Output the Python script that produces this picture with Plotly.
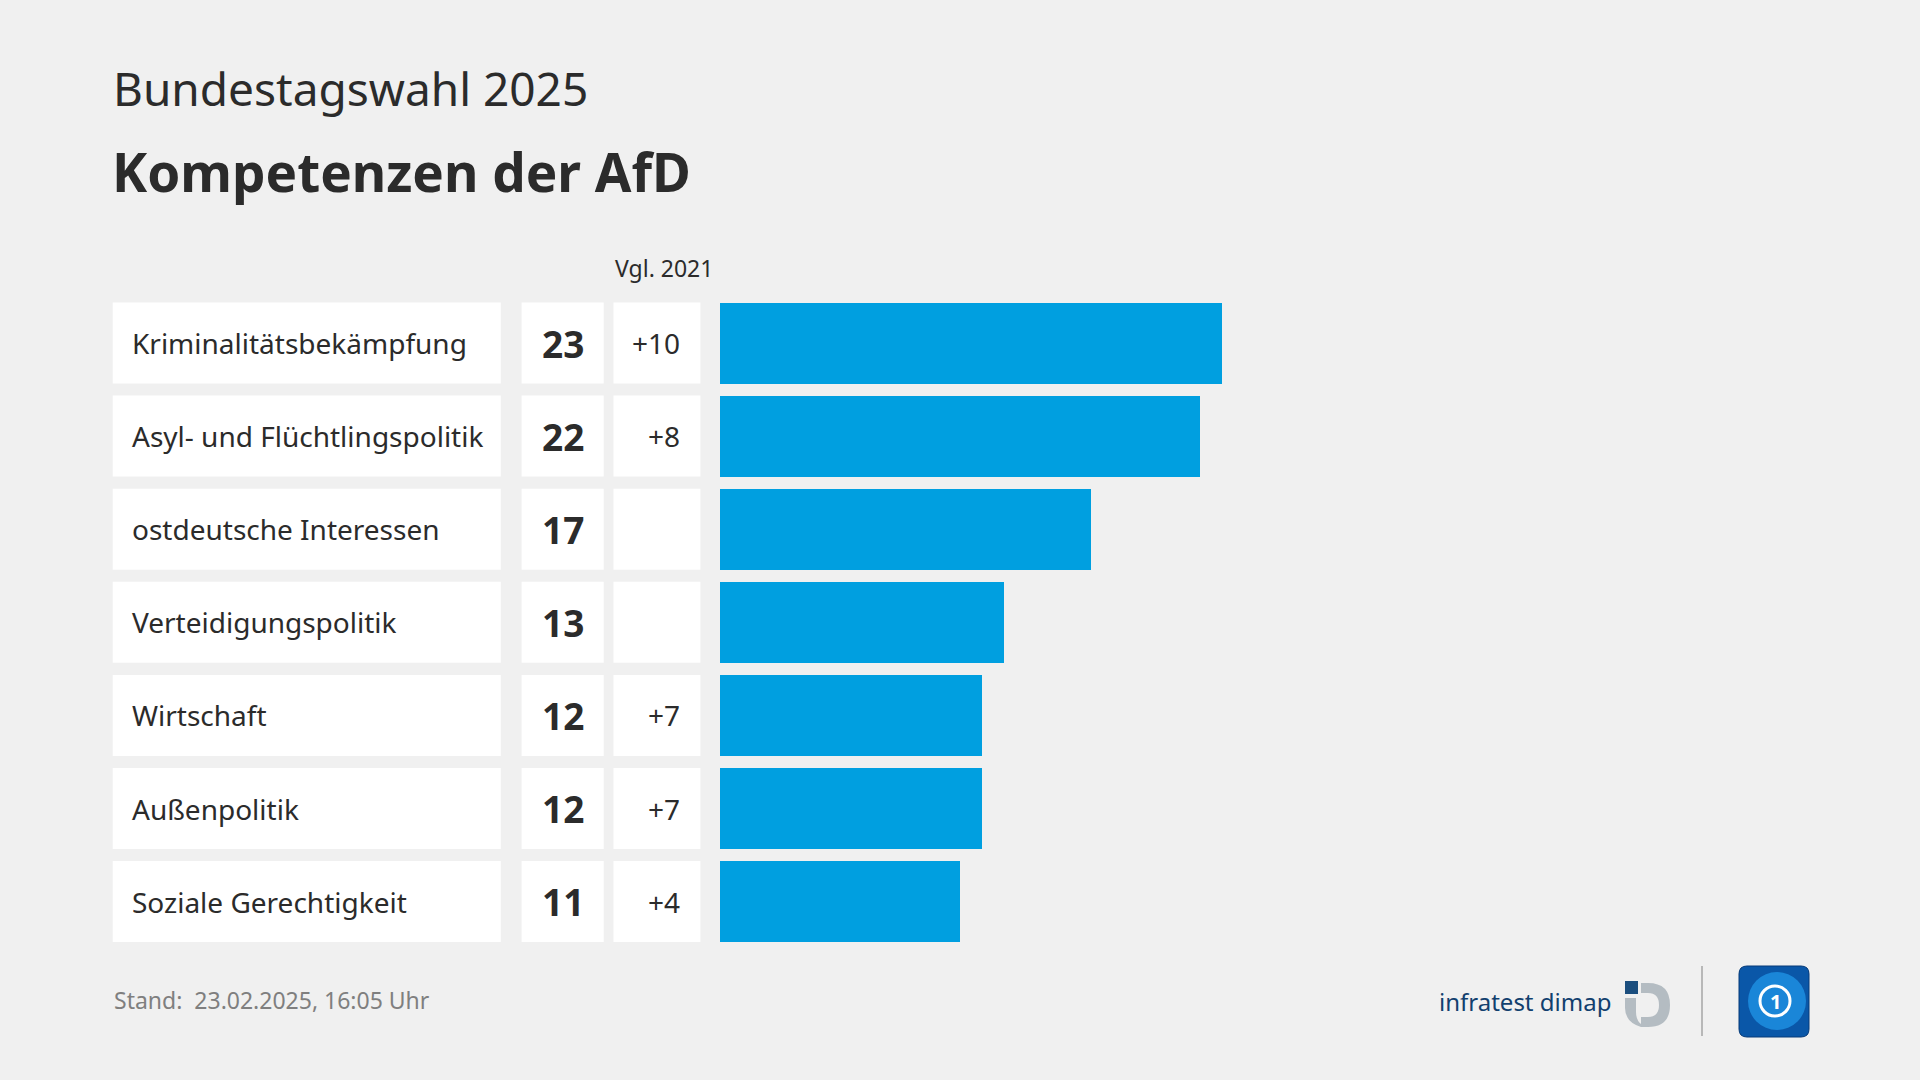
import plotly.graph_objects as go

# ---- data ----
categories = ["Kriminalitätsbekämpfung", "Asyl- und Flüchtlingspolitik", "ostdeutsche Interessen",
              "Verteidigungspolitik", "Wirtschaft", "Außenpolitik", "Soziale Gerechtigkeit"]
values = [23, 22, 17, 13, 12, 12, 11]
changes = ["+10", "+8", "", "", "+7", "+7", "+4"]
title_top = "Bundestagswahl 2025"
title_main = "Kompetenzen der AfD"
compare_label = "Vgl. 2021"
footer = "Stand:  23.02.2025, 16:05 Uhr"

W, H = 1920, 1080
BG = "#f0f0f0"
BAR = "#009fe0"
TXT = "#2b2b2b"
FONT = "Noto Sans"

def px(x):
    return x / W

def py(y):
    return 1 - y / H

rows = list(range(len(categories)))
row_c0 = 343.0
pitch = 93.1
bar_w = 81 / pitch

unit_px = 21.83
x_start = 720
x_range_max = (W - x_start) / unit_px

y_top = -row_c0 / pitch
y_bot = (H - row_c0) / pitch

fig = go.Figure()
fig.add_trace(go.Bar(
    x=values, y=rows, orientation="h", marker=dict(color=BAR, line=dict(width=0)),
    width=bar_w, hoverinfo="skip", showlegend=False,
))

shapes = []
annotations = []
half = bar_w / 2
for i, (cat, v, ch) in enumerate(zip(categories, values, changes)):
    for x0, x1 in [(112.7, 500.8), (521.6, 603.7), (613.5, 700.4)]:
        shapes.append(dict(type="rect", xref="paper", yref="y", x0=px(x0), x1=px(x1),
                           y0=i - half, y1=i + half, fillcolor="white", line=dict(width=0),
                           layer="below"))
    annotations.append(dict(x=px(130), y=i, xref="paper", yref="y", text=cat, showarrow=False,
                            xanchor="left", yanchor="middle",
                            font=dict(family=FONT, size=28, color=TXT)))
    annotations.append(dict(x=px(562.6), y=i, xref="paper", yref="y", text=f"<b>{v}</b>",
                            showarrow=False, xanchor="center", yanchor="middle",
                            font=dict(family=FONT, size=37, color=TXT)))
    if ch:
        annotations.append(dict(x=px(682), y=i, xref="paper", yref="y", text=ch, showarrow=False,
                                xanchor="right", yanchor="middle",
                                font=dict(family=FONT, size=28, color=TXT)))

annotations += [
    dict(x=px(111), y=py(88), xref="paper", yref="paper", text=title_top, showarrow=False,
         xanchor="left", yanchor="middle", font=dict(family=FONT, size=46, color=TXT)),
    dict(x=px(110), y=py(171), xref="paper", yref="paper", text=f"<b>{title_main}</b>",
         showarrow=False, xanchor="left", yanchor="middle",
         font=dict(family=FONT, size=53, color=TXT)),
    dict(x=px(664), y=py(268), xref="paper", yref="paper", text=compare_label, showarrow=False,
         xanchor="center", yanchor="middle", font=dict(family=FONT, size=23, color=TXT)),
    dict(x=px(112), y=py(1000), xref="paper", yref="paper", text=footer, showarrow=False,
         xanchor="left", yanchor="middle", font=dict(family=FONT, size=23, color="#7f7f7f")),
    dict(x=px(1613), y=py(1001), xref="paper", yref="paper", text="infratest dimap",
         showarrow=False, xanchor="right", yanchor="middle",
         font=dict(family=FONT, size=24, color="#123f6e")),
    dict(x=px(1775), y=py(1001), xref="paper", yref="paper", text="<b>1</b>",
         showarrow=False, xanchor="center", yanchor="middle",
         font=dict(family=FONT, size=20, color="white")),
]

# infratest dimap icon
shapes.append(dict(type="rect", xref="paper", yref="paper", x0=px(1625), x1=px(1638),
                   y0=py(994), y1=py(981), fillcolor="#1b4e7e", line=dict(width=0)))
shapes.append(dict(type="path", xref="paper", yref="paper",
                   path=(f"M {px(1641)} {py(983)} L {px(1648)} {py(983)} "
                         f"Q {px(1670)} {py(983)} {px(1670)} {py(1005)} "
                         f"Q {px(1670)} {py(1027)} {px(1648)} {py(1027)} "
                         f"L {px(1641)} {py(1027)} L {px(1641)} {py(1017)} "
                         f"L {px(1648)} {py(1017)} "
                         f"Q {px(1659)} {py(1017)} {px(1659)} {py(1005)} "
                         f"Q {px(1659)} {py(993)} {px(1648)} {py(993)} "
                         f"L {px(1641)} {py(993)} Z"),
                   fillcolor="#b4bcc2", line=dict(width=0)))
shapes.append(dict(type="path", xref="paper", yref="paper",
                   path=(f"M {px(1625)} {py(998)} L {px(1636)} {py(998)} L {px(1636)} {py(1012)} "
                         f"Q {px(1636)} {py(1020)} {px(1641)} {py(1024)} L {px(1641)} {py(1027)} "
                         f"Q {px(1625)} {py(1022)} {px(1625)} {py(1008)} Z"),
                   fillcolor="#b4bcc2", line=dict(width=0)))
# separator
shapes.append(dict(type="line", xref="paper", yref="paper", x0=px(1702), x1=px(1702),
                   y0=py(966), y1=py(1036), line=dict(color="#b8b8b8", width=2)))
# tagesschau logo
r = 8
x0, x1, y0, y1 = 1739, 1809, 966, 1037
shapes.append(dict(type="path", xref="paper", yref="paper",
                   path=(f"M {px(x0 + r)} {py(y0)} L {px(x1 - r)} {py(y0)} "
                         f"Q {px(x1)} {py(y0)} {px(x1)} {py(y0 + r)} L {px(x1)} {py(y1 - r)} "
                         f"Q {px(x1)} {py(y1)} {px(x1 - r)} {py(y1)} L {px(x0 + r)} {py(y1)} "
                         f"Q {px(x0)} {py(y1)} {px(x0)} {py(y1 - r)} L {px(x0)} {py(y0 + r)} "
                         f"Q {px(x0)} {py(y0)} {px(x0 + r)} {py(y0)} Z"),
                   fillcolor="#0a57a8", line=dict(color="#063a78", width=1)))
shapes.append(dict(type="circle", xref="paper", yref="paper", x0=px(1748), x1=px(1806),
                   y0=py(1030), y1=py(972), fillcolor="#1a86d8", line=dict(width=0)))
shapes.append(dict(type="circle", xref="paper", yref="paper", x0=px(1760), x1=px(1790),
                   y0=py(1016), y1=py(986), fillcolor="rgba(0,0,0,0)",
                   line=dict(color="white", width=3)))

fig.update_layout(
    width=W, height=H, paper_bgcolor=BG, plot_bgcolor=BG,
    margin=dict(l=0, r=0, t=0, b=0),
    xaxis=dict(domain=[px(x_start), 1], range=[0, x_range_max], visible=False, fixedrange=True),
    yaxis=dict(domain=[0, 1], range=[y_bot, y_top], visible=False, fixedrange=True),
    shapes=shapes, annotations=annotations, bargap=0, showlegend=False,
)

fig.write_html("out.html", config={"displayModeBar": False},
               post_script="document.body.style.margin='0';document.body.style.background='#f0f0f0';")
